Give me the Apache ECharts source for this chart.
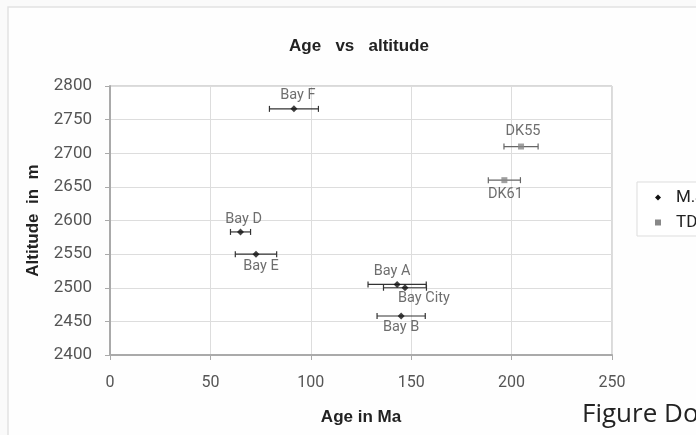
<!DOCTYPE html>
<html>
<head>
<meta charset="utf-8">
<script src="https://cdn.jsdelivr.net/npm/echarts@6/dist/echarts.min.js"></script>
<style>
html,body{margin:0;padding:0;background:#fafafa;}
#c{width:696px;height:435px;}
</style>
</head>
<body>
<div id="c"></div>
<script>
// ---- data ----
const mjNames = ['Bay F', 'Bay D', 'Bay E', 'Bay A', 'Bay City', 'Bay B'];
const mjAge = [91.6, 65, 72.7, 143, 146.9, 145];
const mjAlt = [2766, 2583, 2550, 2505, 2500, 2458];
const mjErr = [12.2, 5, 10.3, 14.5, 10.7, 12];

const tdNames = ['DK55', 'DK61'];
const tdAge = [204.7, 196.4];
const tdAlt = [2710, 2660];
const tdErr = [8.5, 8];

const seriesNames = ['M.J. samples', 'TDK samples'];
const xTicks = [0, 50, 100, 150, 200, 250];
const yTicks = [2400, 2450, 2500, 2550, 2600, 2650, 2700, 2750, 2800];

// label placement (pixel offsets from point), style only
const mjLabelOffset = [[4, -13], [3, -13], [5, 12], [-5, -13], [19, 11], [0, 11]];
const tdLabelOffset = [[2, -15], [1, 14]];

const colMJ = '#111';
const colTD = '#888';

function pts(names, ages, alts, offs) {
  return names.map((n, i) => ({
    name: n, value: [ages[i], alts[i]],
    label: {offset: offs[i]}
  }));
}
function errs(ages, alts, e) {
  return ages.map((a, i) => [a, alts[i], a - e[i], a + e[i]]);
}
function errRender(color) {
  return function (params, api) {
    const y = api.value(1);
    const p1 = api.coord([api.value(2), y]);
    const p2 = api.coord([api.value(3), y]);
    const h = 3;
    const st = {stroke: color, lineWidth: 1.2};
    return {type: 'group', children: [
      {type: 'line', shape: {x1: p1[0], y1: p1[1], x2: p2[0], y2: p2[1]}, style: st},
      {type: 'line', shape: {x1: p1[0], y1: p1[1] - h, x2: p1[0], y2: p1[1] + h}, style: st},
      {type: 'line', shape: {x1: p2[0], y1: p2[1] - h, x2: p2[0], y2: p2[1] + h}, style: st}
    ]};
  };
}
const labelStyle = {
  show: true, position: 'inside', formatter: '{b}',
  fontFamily: 'Roboto', fontSize: 14.5, color: '#4a4a4a',
  align: 'center', verticalAlign: 'middle'
};

const chart = echarts.init(document.getElementById('c'), null, {renderer: 'canvas'});
chart.setOption({
  backgroundColor: '#fafafa',
  animation: false,
  graphic: [
    {type: 'rect', shape: {x: 8, y: 7, width: 720, height: 460},
     style: {fill: '#fefefe', stroke: '#e2e2e2', lineWidth: 1.5}, z: -10},
    {type: 'text', left: 582, top: 402,
     style: {text: 'Figure Do', fontFamily: 'Open Sans', fontSize: 26, fill: '#222'}}
  ],
  title: {
    text: 'Age   vs   altitude', left: 354, top: 33, textAlign: 'center',
    textStyle: {fontFamily: 'Liberation Sans', fontWeight: 'bold', fontSize: 17, color: '#222'}
  },
  legend: {
    orient: 'vertical', left: 637, top: 182,
    padding: [7, 40, 5, 18], itemGap: 8,
    borderColor: '#ddd', borderWidth: 1, backgroundColor: '#fff',
    itemWidth: 6, itemHeight: 6,
    textStyle: {fontFamily: 'Roboto', fontSize: 17, color: '#222', padding: [0, 0, 0, 10]},
    data: [
      {name: seriesNames[0], icon: 'diamond', itemStyle: {color: colMJ}},
      {name: seriesNames[1], icon: 'rect', itemStyle: {color: colTD}}
    ]
  },
  grid: {left: 110, top: 86, width: 502, height: 269, show: true,
         borderColor: '#b5b5b5', borderWidth: 1, backgroundColor: '#fff'},
  xAxis: {
    type: 'value', min: xTicks[0], max: xTicks[xTicks.length - 1], interval: 50,
    name: 'Age in Ma', nameLocation: 'middle', nameGap: 54,
    nameTextStyle: {fontFamily: 'Liberation Sans', fontWeight: 'bold', fontSize: 17, color: '#222'},
    axisLine: {show: true, lineStyle: {color: '#aaa', width: 2}},
    axisTick: {show: true, length: 5, lineStyle: {color: '#aaa'}},
    axisLabel: {margin: 20, fontFamily: 'Roboto', fontSize: 16, color: '#555',
                formatter: v => String(v)},
    splitLine: {show: true, lineStyle: {color: '#ddd'}}
  },
  yAxis: {
    type: 'value', min: yTicks[0], max: yTicks[yTicks.length - 1], interval: 50,
    name: 'Altitude  in  m', nameLocation: 'middle', nameGap: 68, nameRotate: 90,
    nameTextStyle: {fontFamily: 'Liberation Sans', fontWeight: 'bold', fontSize: 17, color: '#222'},
    axisLine: {show: true, lineStyle: {color: '#aaa', width: 2}},
    axisTick: {show: true, length: 5, lineStyle: {color: '#aaa'}},
    axisLabel: {margin: 18, fontFamily: 'Roboto', fontSize: 17, color: '#555',
                formatter: v => String(v)},
    splitLine: {show: true, lineStyle: {color: '#ddd'}}
  },
  series: [
    {type: 'custom', name: seriesNames[0], renderItem: errRender('#333'),
     itemStyle: {color: colMJ},
     data: errs(mjAge, mjAlt, mjErr), encode: {x: [0, 2, 3], y: 1}, z: 2, silent: true},
    {type: 'custom', name: seriesNames[1], renderItem: errRender('#666'),
     itemStyle: {color: colTD},
     data: errs(tdAge, tdAlt, tdErr), encode: {x: [0, 2, 3], y: 1}, z: 2, silent: true},
    {type: 'scatter', name: seriesNames[0], symbol: 'diamond', symbolSize: 7,
     itemStyle: {color: colMJ}, label: labelStyle,
     data: pts(mjNames, mjAge, mjAlt, mjLabelOffset), z: 3},
    {type: 'scatter', name: seriesNames[1], symbol: 'rect', symbolSize: 6,
     itemStyle: {color: colTD}, label: labelStyle,
     data: pts(tdNames, tdAge, tdAlt, tdLabelOffset), z: 3}
  ]
});
</script>
</body>
</html>
